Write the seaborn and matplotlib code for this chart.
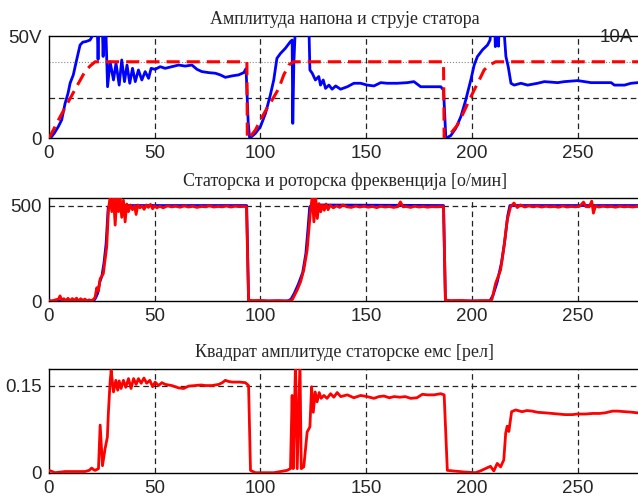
import matplotlib

matplotlib.use("Agg")
import matplotlib.pyplot as plt
import seaborn as sns

# --- panel 1: stator voltage amplitude (blue) and current reference (red dashed)
volt_t = [0, 1, 2.5, 4.4, 6, 7.6, 9, 10, 11.5, 13, 14.7, 16, 17.5, 19.4, 20.5,
          21.2, 22.8, 23.2, 23.6, 24.8, 25.2, 25.6, 26.0, 26.8, 27.7, 28.9, 30.5,
          31.7, 33.2, 34.4, 35.7, 36.9, 38.2, 39.5, 40.8, 42.3, 43.9, 45.5, 47.1,
          48.3, 50.2, 52.6, 54.9, 58.1, 61.3, 64.4, 67.6, 70, 72.3, 75.5, 78.7,
          81, 83.4, 86.6, 89.7, 92.1, 93.2, 94.2, 94.9, 97.6, 100, 102.4, 104.7,
          106.3, 107.8, 109.5, 111.8, 114.2, 115, 115.3, 115.8, 116.6, 122.9,
          123.4, 124.5, 126, 127.6, 128.4, 129.7, 130.8, 132.4, 133.9, 135.6,
          137.9, 141.1, 144.2, 147.4, 150.5, 153.7, 156.9, 160, 164.7, 169.5,
          172.6, 175.8, 180.5, 185.3, 186.6, 187.7, 190, 192.4, 194.8, 197.1,
          199.5, 201.1, 202.6, 205, 207.4, 208.6, 209.3, 210.8, 211.1, 211.4,
          212.3, 212.6, 212.9, 215, 216.1, 217.2, 218.5, 220, 223.2, 226.4,
          231.1, 234.3, 240.6, 243.8, 250.1, 256.4, 265.9, 267.4, 272.2, 275.3,
          278.5, 280]
volt_v = [0, 0.5, 2.5, 5.7, 9, 17, 22, 27, 31, 38, 45.6, 47, 47.3, 48, 50,
          56, 56, 38.6, 56, 56, 56, 40, 56, 56, 25.2, 37.4, 28.5,
          36.7, 26, 38.3, 27.7, 35.8, 26.9, 34.2, 27.7, 33.4, 28.5, 32.6, 29.3,
          34.2, 33.7, 35, 34.2, 35, 35.8, 35.3, 35.8, 33.7, 32.6, 32.1, 31.8,
          31, 29.8, 30.5, 31, 32.1, 34, 8, 0, 2.4, 5.7, 12.2, 21.2,
          28.5, 39.1, 41.5, 44, 47.3, 48, 7.3, 36.7, 56, 56,
          33.4, 31.8, 28.5, 30.2, 26, 28.5, 24.4, 26, 24, 25.6,
          24, 25.2, 26.9, 26.9, 26, 25.6, 27.2, 26.9, 26.9, 27.2,
          27.7, 25.2, 25.2, 25.2, 23.6, 0, 1.3, 4.9, 10.6, 18.7,
          28.5, 35.8, 39.9, 43.2, 45.6, 48, 56, 56, 44.8, 56,
          56, 45, 56, 56, 40, 35, 26.9, 26, 26.9, 26,
          26.9, 27.7, 27.2, 27.7, 28.2, 27.2, 27.2, 26, 26, 26.9,
          27.2, 27]

iref_t = [0, 5, 10, 14, 17, 19.4, 21.8, 93.6, 93.8, 94.5, 97.6, 100, 103.1,
          105.5, 108.7, 111, 113.4, 115.5, 186.6, 186.9, 187.7, 190, 193.2,
          196.3, 198.8, 201.1, 203.5, 205.8, 208.2, 211.3, 280]
iref_v = [0, 10, 19.5, 27, 32.6, 35.3, 37.4, 37.4, 0, 0, 4, 8.9, 14.7,
          18.7, 24.4, 30.9, 35.8, 37.4, 37.4, 0, 0, 2.4, 6.5,
          13.1, 18.7, 23.6, 28.5, 33.4, 35.8, 37.4, 37.4]

# --- panel 2: stator (blue) and rotor (red) frequency [rpm]
fs_t = [0, 21, 22, 23, 24, 25, 26, 27, 28, 28.8, 30, 93.5, 94.4, 113, 114.5,
        116, 118, 120, 121.5, 122.5, 123.3, 124.5, 186.6, 187.5, 208.5, 210,
        212, 214, 215.5, 217, 218, 280]
fs_v = [0, 0, 15, 40, 100, 130, 200, 300, 490, 505, 502, 502, 0, 0, 10,
        40, 90, 150, 250, 380, 495, 505, 502, 0, 0, 30,
        100, 200, 310, 450, 502, 502]

fr_t = [0, 1.5, 3, 4.5, 5.2, 6, 7, 8, 9, 10, 11, 12, 13, 14, 15, 16, 17, 18,
        19, 20, 21, 21.8, 22.6, 23.4, 24.2, 25.7, 26.5, 27.3, 28.1, 28.9,
        29.7, 30.5, 31.3, 32.1, 32.9, 33.6, 34.4, 35.2, 36, 36.8, 37.6, 38.5,
        39.5, 40.5, 41.2, 42, 43, 44, 45, 46, 47, 48, 49, 50, 51, 52.5, 54,
        56, 58, 60, 62, 64, 66, 68, 70, 72, 74, 76, 78, 80, 82, 84, 86, 88,
        90, 92, 93.4, 94.4, 96, 100, 104, 108, 112, 114, 115, 117.4, 119,
        120.5, 122.1, 123.7, 124.5, 125.3, 126.1, 126.9, 127.7, 128.5, 129.3,
        130.2, 131, 132, 133, 134.5, 136, 137.5, 139, 141, 143, 145, 147, 149,
        151, 153, 155, 157, 159, 161, 163, 165, 166.2, 167.5, 169, 171, 173,
        175, 177, 179, 181, 183, 185, 186.6, 187.5, 190, 195, 200, 205, 208.8,
        209.5, 211.2, 213.6, 215.2, 216.7, 218.3, 219.9, 221.5, 223, 225, 227,
        229, 231, 233, 235, 237, 239, 241, 243, 245, 247, 249, 251, 252.8, 254,
        255.5, 256.7, 257.5, 258.5, 260, 262, 264, 266, 268, 270, 272, 274,
        276, 278, 280]
fr_v = [2, 0, 6, 10, 27, 6, 12, 2, 14, 0, 13, 3, 15, 0, 12, 3, 10, 0,
        6, 2, 8, 20, 70, 52, 117, 144, 215, 285, 477, 548,
        470, 548, 399, 548, 470, 548, 440, 530, 416, 510, 470, 505,
        480, 500, 455, 505, 490, 500, 482, 505, 492, 508, 485, 500, 490, 498, 490,
        500, 495, 498, 493, 500, 494, 498, 492, 497, 495, 500, 494, 497, 495, 499, 494, 498,
        496, 497, 496, 5, 2, 3, 0, 2, 0, 2, 5, 58, 101,
        163, 268, 477, 548, 416, 548, 434, 512, 469, 504,
        477, 510, 480, 504, 490, 500, 492, 505, 495, 492, 499, 494, 498,
        493, 497, 491, 498, 494, 497, 492, 496, 521, 495, 497, 492, 498,
        494, 497, 493, 496, 495, 496, 496, 5, 2, 3, 0, 2, 2,
        8, 92, 163, 286, 425, 495, 515, 491, 505, 494, 500,
        495, 499, 494, 498, 495, 497, 493, 499, 494, 497, 495, 498, 520, 496,
        495, 525, 462, 500, 494, 498, 495, 497, 493, 498, 495, 497,
        494, 497, 496]

# --- panel 3: squared stator emf amplitude [rel]
emf_t = [0, 1.5, 2.8, 5, 7.6, 12, 17, 19, 20.2, 21.2, 21.8, 23.4, 24.2, 25.3,
         26.5, 27.6, 28.1, 28.9, 29.4, 30.5, 31.6, 32.5, 33.2, 34.1, 35.2, 36.3,
         37.6, 38.8, 40, 41.2, 42.3, 43.6, 44.9, 46.2, 47.7, 49, 50.2, 51.8,
         53.4, 55, 58.1, 61.3, 63.7, 66, 69.2, 72, 74, 77, 80.3, 82, 83.4, 85,
         86.6, 90, 92.9, 94.4, 95.3, 97.6, 102, 106.3, 109.5, 112.6, 114.2, 115,
         115.5, 116.6, 117.4, 118.7, 119.3, 120.5, 122.1, 123.4, 124.2, 125,
         125.9, 126.8, 127.8, 128.7, 130, 131.5, 133.2, 134.7, 136.3, 138,
         141.1, 144.2, 147.4, 150.5, 153.7, 156, 158.4, 161, 163.2, 166, 168.5,
         171.1, 174, 176.6, 179, 182.1, 185.3, 186.9, 188.4, 193.8, 197, 201.7,
         204, 206.4, 208.8, 210.4, 212, 213.6, 215.1, 216, 216.7, 217.5, 218.8,
         220.7, 223.8, 226, 228.6, 231, 234.9, 238, 241.2, 244, 247.5, 250,
         253.9, 257, 260.2, 263, 266.5, 269, 272.8, 276, 278.3, 280]
emf_v = [0.004, 0.002, 0.0, 0.001, 0.002, 0.002, 0.002, 0.004, 0.008, 0.005,
         0.004, 0.007, 0.082, 0.012, 0.041, 0.061, 0.104, 0.156, 0.176, 0.139,
         0.159, 0.142, 0.158, 0.145, 0.159, 0.147, 0.162, 0.145, 0.162, 0.152,
         0.162, 0.154, 0.163, 0.154, 0.159, 0.148, 0.156, 0.150, 0.155, 0.152,
         0.150, 0.146, 0.145, 0.149, 0.150, 0.151, 0.150, 0.150, 0.152, 0.155,
         0.159, 0.157, 0.156, 0.156, 0.155, 0.150, 0.004, 0.0, 0.0, 0.0, 0.002,
         0.004, 0.007, 0.133, 0.007, 0.19, 0.007, 0.19, 0.007, 0.01, 0.07,
         0.079, 0.148, 0.104, 0.139, 0.122, 0.138, 0.128, 0.133, 0.128, 0.136,
         0.130, 0.138, 0.131, 0.134, 0.129, 0.133, 0.131, 0.128, 0.131, 0.132,
         0.129, 0.131, 0.130, 0.131, 0.128, 0.129, 0.135, 0.134, 0.134, 0.136,
         0.134, 0.004, 0.002, 0.001, 0.0, 0.003, 0.007, 0.011, 0.003, 0.016,
         0.010, 0.022, 0.068, 0.080, 0.071, 0.105, 0.108, 0.105, 0.107, 0.106,
         0.104, 0.103, 0.102, 0.101, 0.100, 0.100, 0.101, 0.101, 0.102, 0.102,
         0.103, 0.106, 0.106, 0.105, 0.104, 0.103, 0.104]

titles = ["Амплитуда напона и струје статора",
          "Статорска и роторска фреквенција [о/мин]",
          "Квадрат амплитуде статорске емс [рел]"]
x_ticks = [0, 50, 100, 150, 200, 250]

sns.set_style("white")
plt.rcParams["font.family"] = ["Liberation Sans", "DejaVu Sans"]

W, H = 638, 501
fig = plt.figure(figsize=(W / 100, H / 100), dpi=100)


def add_panel(top_px, bottom_px):
    return fig.add_axes([49 / W, 1 - bottom_px / H, 592 / W, (bottom_px - top_px) / H])


grid_kw = dict(color="#222222", linewidth=0.9, linestyle=(0, (4.5, 3)), zorder=1)


def style(ax, title, ylim, yticks, ylabels, hlines):
    ax.set_xlim(0, 280)
    ax.set_ylim(*ylim)
    ax.set_xticks(x_ticks)
    ax.set_xticklabels([str(x) for x in x_ticks])
    ax.set_yticks(yticks)
    ax.set_yticklabels(ylabels)
    for x in x_ticks[1:]:
        ax.axvline(x, **grid_kw)
    for y in hlines:
        ax.axhline(y, **grid_kw)
    ax.tick_params(labelsize=13.5, direction="in", length=3, pad=5, color="k")
    for s in ax.spines.values():
        s.set_color("k")
        s.set_linewidth(1.0)
    ax.set_xlabel("")
    ax.set_ylabel("")
    ax.set_title(title, fontsize=13, family="Liberation Serif", pad=9)


ax1 = add_panel(36, 138.3)
sns.lineplot(x=volt_t, y=volt_v, ax=ax1, color="#0000ff", linewidth=2.0,
             estimator=None, sort=False, zorder=3)
sns.lineplot(x=iref_t, y=iref_v, ax=ax1, color="#ff0000", linewidth=2.2,
             linestyle=(0, (4.3, 2.3)), estimator=None, sort=False, zorder=4)
ax1.axhline(37.4, color="#888888", linewidth=0.8, linestyle=":", zorder=1)
style(ax1, titles[0], (0, 50), [0, 50], ["0", "50V"], [19.5])
ax1.text(0.986, 0.985, "10A", transform=ax1.transAxes, ha="right", va="center",
         fontsize=13.5, zorder=5)

ax2 = add_panel(198.3, 301)
sns.lineplot(x=fs_t, y=fs_v, ax=ax2, color="#0000ff", linewidth=2.0,
             estimator=None, sort=False, zorder=3)
sns.lineplot(x=fr_t, y=fr_v, ax=ax2, color="#ff0000", linewidth=2.0,
             estimator=None, sort=False, zorder=4)
style(ax2, titles[1], (0, 540), [0, 500], ["0", "500"], [500])

ax3 = add_panel(369.3, 472.7)
sns.lineplot(x=emf_t, y=emf_v, ax=ax3, color="#ff0000", linewidth=2.0,
             estimator=None, sort=False, zorder=4)
style(ax3, titles[2], (0, 0.178), [0, 0.15], ["0", "0.15"], [0.15])

fig.savefig("out.png", dpi=100)
